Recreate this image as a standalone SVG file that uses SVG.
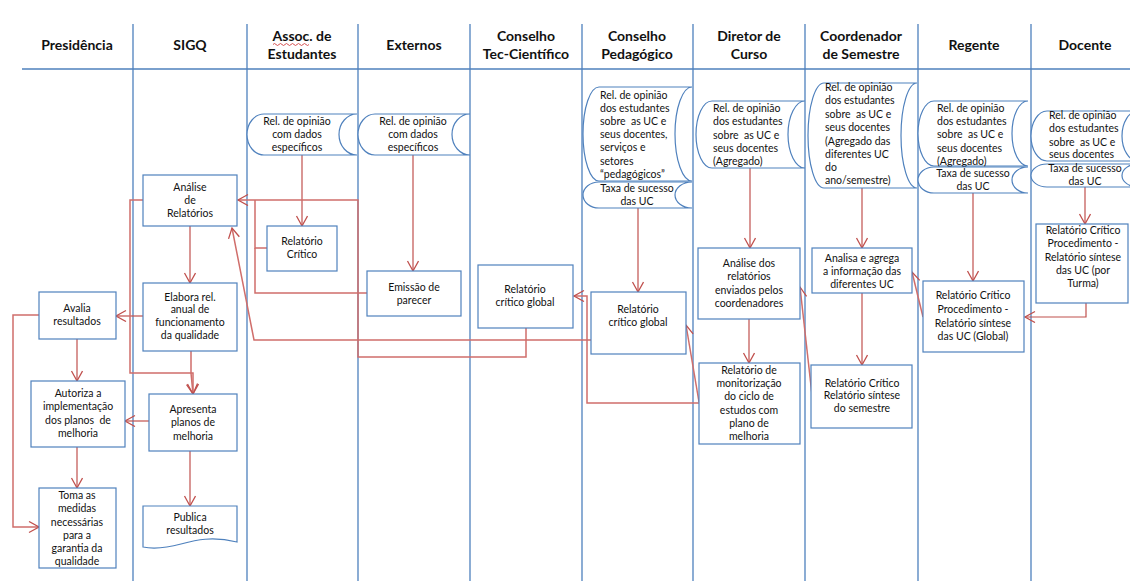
<svg xmlns="http://www.w3.org/2000/svg" width="1130" height="581" viewBox="0 0 1130 581">
<style>
.lane{stroke:#4f81bd;stroke-width:1.3;fill:none}
.box{fill:#fff;stroke:#4f81bd;stroke-width:1.2}
.h{font-family:Lato,"Noto Sans",sans-serif;font-weight:bold;font-size:14px;fill:#111;text-anchor:middle}
.t{font-family:Lato,"Noto Sans",sans-serif;font-size:10.5px;fill:#111;text-anchor:middle;white-space:pre}
.tl{font-family:Lato,"Noto Sans",sans-serif;font-size:10.5px;fill:#111;white-space:pre}
.c{fill:none;stroke:#c0504d;stroke-width:1.2}
.l{fill:none;stroke:#d06e6b;stroke-width:1.5}
</style>
<defs>
<marker id="a" markerUnits="userSpaceOnUse" markerWidth="13" markerHeight="13" refX="11" refY="6" orient="auto">
<path d="M1,0.5 L11,6 L1,11.5" fill="none" stroke="#c0504d" stroke-width="1.3"/>
</marker>
</defs>
<rect width="1130" height="581" fill="#fff"/>
<g id="lanes">
<path class="lane" d="M22,69 H1130 M133,24 V581 M247,24 V581 M358,24 V581 M470,24 V581 M582,24 V581 M693,24 V581 M805,24 V581 M918,24 V581 M1031,24 V581"/>
<text class="h" x="77" y="50">Presidência</text>
<text class="h" x="190" y="50">SIGQ</text>
<text class="h" x="302" y="41">Assoc. de</text>
<text class="h" x="302" y="59">Estudantes</text>
<path d="M273,44.5 q1.5,-2 3,0 t3,0 t3,0 t3,0 t3,0 t3,0 t3,0 t3,0 t3,0 t3,0 t3,0 t3,0" fill="none" stroke="#d04040" stroke-width="0.9"/>
<text class="h" x="414" y="50">Externos</text>
<text class="h" x="526" y="41">Conselho</text>
<text class="h" x="526" y="59">Tec-Científico</text>
<text class="h" x="637" y="41">Conselho</text>
<text class="h" x="637" y="59">Pedagógico</text>
<text class="h" x="749" y="41">Diretor de</text>
<text class="h" x="749" y="59">Curso</text>
<text class="h" x="861" y="41">Coordenador</text>
<text class="h" x="861" y="59">de Semestre</text>
<text class="h" x="974" y="50">Regente</text>
<text class="h" x="1085" y="50">Docente</text>
</g>
<g id="connectors">
<path class="c" d="M77,339 V381" marker-end="url(#a)"/>
<path class="c" d="M77,447 V488" marker-end="url(#a)"/>
<path class="l" d="M39,315 H13 V527 H39" marker-end="url(#a)"/>
<path class="c" d="M190,226 V283" marker-end="url(#a)"/>
<path class="c" d="M143,316 H116" marker-end="url(#a)"/>
<path class="l" d="M191,351 V373 L193,394" marker-end="url(#a)"/>
<path class="l" d="M143,200 H130 V373 H193 V394" marker-end="url(#a)"/>
<path class="c" d="M149,421 H125" marker-end="url(#a)"/>
<path class="c" d="M190,451 V506" marker-end="url(#a)"/>
<path class="c" d="M302,155 V226" marker-end="url(#a)"/>
<path class="c" d="M413,155 V271" marker-end="url(#a)"/>
<path class="l" d="M267,248 H255 V200"/>
<path class="l" d="M367,293 H255 V248"/>
<path class="l" d="M526,328 V357 H358 V200 H238" marker-end="url(#a)"/>
<path class="l" d="M591,340 H254 L232,228" marker-end="url(#a)"/>
<path class="c" d="M638,208 V292" marker-end="url(#a)"/>
<path class="l" d="M699,403 H587 V296 H574" marker-end="url(#a)"/>
<path class="l" d="M699,402 L686,325" marker-end="url(#a)"/>
<path class="c" d="M750,168 V248" marker-end="url(#a)"/>
<path class="c" d="M749,319 V363" marker-end="url(#a)"/>
<path class="l" d="M812,395 L800,287" marker-end="url(#a)"/>
<path class="c" d="M862,188 V248" marker-end="url(#a)"/>
<path class="c" d="M862,293 V365" marker-end="url(#a)"/>
<path class="l" d="M923,317 L912,272" marker-end="url(#a)"/>
<path class="c" d="M973,193 V281" marker-end="url(#a)"/>
<path class="c" d="M1085,187 V224" marker-end="url(#a)"/>
<path class="c" d="M1086,303 V317 H1025" marker-end="url(#a)"/>
</g>
<g id="avalia">
<rect class="box" x="39" y="292" width="77" height="47"/>
<text class="t" x="77" y="311.5">Avalia</text>
<text class="t" x="77" y="324.5">resultados</text>
</g>
<g id="autoriza">
<rect class="box" x="31" y="381" width="94" height="66"/>
<text class="t" x="78" y="396.5">Autoriza a</text>
<text class="t" x="78" y="410">implementação</text>
<text class="t" x="78" y="423.5" xml:space="preserve">dos planos  de</text>
<text class="t" x="78" y="437">melhoria</text>
</g>
<g id="toma">
<rect class="box" x="39" y="488" width="77" height="80"/>
<text class="t" x="77" y="498.5">Toma as</text>
<text class="t" x="77" y="512">medidas</text>
<text class="t" x="77" y="525.5">necessárias</text>
<text class="t" x="77" y="539">para a</text>
<text class="t" x="77" y="552">garantia da</text>
<text class="t" x="77" y="565">qualidade</text>
</g>
<g id="analise">
<rect class="box" x="143" y="175" width="94" height="51"/>
<text class="t" x="190" y="190.5">Análise</text>
<text class="t" x="190" y="203.5">de</text>
<text class="t" x="190" y="216.5">Relatórios</text>
</g>
<g id="elabora">
<rect class="box" x="143" y="283" width="94" height="68"/>
<text class="t" x="190" y="300.5">Elabora rel.</text>
<text class="t" x="190" y="313">anual de</text>
<text class="t" x="190" y="326">funcionamento</text>
<text class="t" x="190" y="339">da qualidade</text>
</g>
<g id="apresenta">
<rect class="box" x="149" y="394" width="88" height="57"/>
<text class="t" x="193" y="412.5">Apresenta</text>
<text class="t" x="193" y="426">planos de</text>
<text class="t" x="193" y="439.5">melhoria</text>
</g>
<g id="publica">
<path class="box" d="M143,506 H237 V542 C212,536 196,540 181,544 C166,548 153,549 143,547 Z"/>
<text class="t" x="190" y="520.5">Publica</text>
<text class="t" x="190" y="533.5">resultados</text>
</g>
<g id="assoc-opiniao">
<path class="box" d="M264,114 H357 A18,20.5 0 0 0 357,155 H264 A17,20.5 0 0 1 264,114 Z"/>
<text class="t" x="297" y="124.5">Rel. de opinião</text>
<text class="t" x="297" y="137.5">com dados</text>
<text class="t" x="297" y="151">específicos</text>
</g>
<g id="assoc-critico">
<rect class="box" x="267" y="226" width="70" height="45"/>
<text class="t" x="302" y="244.5">Relatório</text>
<text class="t" x="302" y="257.5">Crítico</text>
</g>
<g id="ext-opiniao">
<path class="box" d="M375,114 H470 A18,20.5 0 0 0 470,155 H375 A17,20.5 0 0 1 375,114 Z"/>
<text class="t" x="413" y="124.5">Rel. de opinião</text>
<text class="t" x="413" y="137.5">com dados</text>
<text class="t" x="413" y="151">específicos</text>
</g>
<g id="emissao">
<rect class="box" x="367" y="271" width="94" height="45"/>
<text class="t" x="414" y="290.5">Emissão de</text>
<text class="t" x="414" y="303.5">parecer</text>
</g>
<g id="tec-global">
<rect class="box" x="478" y="265" width="95" height="63"/>
<text class="t" x="525" y="292.5">Relatório</text>
<text class="t" x="525" y="305.5">crítico global</text>
</g>
<g id="ped-opiniao">
<path class="box" d="M599,87 H692 A17,47 0 0 0 692,181 H599 A16,47 0 0 1 599,87 Z"/>
<text class="tl" x="600" y="98.5">Rel. de opinião</text>
<text class="tl" x="600" y="111.5">dos estudantes</text>
<text class="tl" x="600" y="125" xml:space="preserve">sobre  as UC e</text>
<text class="tl" x="600" y="138">seus docentes,</text>
<text class="tl" x="600" y="151">serviços e</text>
<text class="tl" x="600" y="164.5">setores</text>
<text class="tl" x="600" y="177.5">“pedagógicos”</text>
</g>
<g id="ped-taxa">
<path class="box" d="M599,182 H692 A17,13 0 0 0 692,208 H599 A16,13 0 0 1 599,182 Z"/>
<text class="t" x="637" y="191.5">Taxa de sucesso</text>
<text class="t" x="637" y="205">das UC</text>
</g>
<g id="ped-global">
<rect class="box" x="591" y="292" width="95" height="62"/>
<text class="t" x="638" y="312.5">Relatório</text>
<text class="t" x="638" y="325.5">crítico global</text>
</g>
<g id="dir-opiniao">
<path class="box" d="M712,101 H805 A17,33.5 0 0 0 805,168 H712 A16,33.5 0 0 1 712,101 Z"/>
<text class="tl" x="713" y="111.5">Rel. de opinião</text>
<text class="tl" x="713" y="125">dos estudantes</text>
<text class="tl" x="713" y="138.5" xml:space="preserve">sobre  as UC e</text>
<text class="tl" x="713" y="151.5">seus docentes</text>
<text class="tl" x="713" y="165">(Agregado)</text>
</g>
<g id="dir-analise">
<rect class="box" x="698" y="248" width="102" height="71"/>
<text class="t" x="749" y="266.5">Análise dos</text>
<text class="t" x="749" y="280">relatórios</text>
<text class="t" x="749" y="293.5">enviados pelos</text>
<text class="t" x="749" y="306.5">coordenadores</text>
</g>
<g id="dir-monitor">
<rect class="box" x="699" y="363" width="101" height="81"/>
<text class="t" x="749" y="373.5">Relatório de</text>
<text class="t" x="749" y="386.5">monitorização</text>
<text class="t" x="749" y="400">do ciclo de</text>
<text class="t" x="749" y="413.5">estudos com</text>
<text class="t" x="749" y="426.5">plano de</text>
<text class="t" x="749" y="440">melhoria</text>
</g>
<g id="coord-opiniao">
<path class="box" d="M824,83 H917 A16,52.5 0 0 0 917,188 H824 A16,52.5 0 0 1 824,83 Z"/>
<text class="tl" x="825" y="90.5">Rel. de opinião</text>
<text class="tl" x="825" y="104">dos estudantes</text>
<text class="tl" x="825" y="117.5" xml:space="preserve">sobre  as UC e</text>
<text class="tl" x="825" y="131">seus docentes</text>
<text class="tl" x="825" y="144.5">(Agregado das</text>
<text class="tl" x="825" y="157.5">diferentes UC</text>
<text class="tl" x="825" y="170.5">do</text>
<text class="tl" x="825" y="184">ano/semestre)</text>
</g>
<g id="coord-analisa">
<rect class="box" x="812" y="248" width="100" height="45"/>
<text class="t" x="862" y="261.5">Analisa e agrega</text>
<text class="t" x="862" y="275">a informação das</text>
<text class="t" x="862" y="288">diferentes UC</text>
</g>
<g id="coord-critico">
<rect class="box" x="811" y="365" width="101" height="63"/>
<text class="t" x="862" y="386.5">Relatório Crítico</text>
<text class="t" x="862" y="399">Relatório síntese</text>
<text class="t" x="862" y="412">do semestre</text>
</g>
<g id="reg-opiniao">
<path class="box" d="M934,101 H1028 A16,32.5 0 0 0 1028,166 H934 A16,32.5 0 0 1 934,101 Z"/>
<text class="tl" x="937" y="111.5">Rel. de opinião</text>
<text class="tl" x="937" y="125">dos estudantes</text>
<text class="tl" x="937" y="138" xml:space="preserve">sobre  as UC e</text>
<text class="tl" x="937" y="151.5">seus docentes</text>
<text class="tl" x="937" y="164.5">(Agregado)</text>
</g>
<g id="reg-taxa">
<path class="box" d="M934,167 H1028 A16,13 0 0 0 1028,193 H934 A16,13 0 0 1 934,167 Z"/>
<text class="t" x="973" y="176.5">Taxa de sucesso</text>
<text class="t" x="973" y="190">das UC</text>
</g>
<g id="reg-critico">
<rect class="box" x="923" y="281" width="101" height="71"/>
<text class="t" x="973" y="298.5">Relatório Crítico</text>
<text class="t" x="973" y="312.5">Procedimento -</text>
<text class="t" x="973" y="326.5">Relatório síntese</text>
<text class="t" x="973" y="339.5">das UC (Global)</text>
</g>
<g id="doc-opiniao">
<path class="box" d="M1047,111 H1138 A16,25 0 0 0 1138,161 H1047 A16,25 0 0 1 1047,111 Z"/>
<text class="tl" x="1049" y="118.5">Rel. de opinião</text>
<text class="tl" x="1049" y="131.5">dos estudantes</text>
<text class="tl" x="1049" y="145.5" xml:space="preserve">sobre  as UC e</text>
<text class="tl" x="1049" y="157.5">seus docentes</text>
</g>
<g id="doc-taxa">
<path class="box" d="M1047,164 H1138 A16,11.5 0 0 0 1138,187 H1047 A16,11.5 0 0 1 1047,164 Z"/>
<text class="t" x="1085" y="171.5">Taxa de sucesso</text>
<text class="t" x="1085" y="185">das UC</text>
</g>
<g id="doc-critico">
<rect class="box" x="1036" y="224" width="92" height="79"/>
<text class="t" x="1083" y="233.5">Relatório Crítico</text>
<text class="t" x="1083" y="246.5">Procedimento -</text>
<text class="t" x="1083" y="260.5">Relatório síntese</text>
<text class="t" x="1083" y="273.5">das UC (por</text>
<text class="t" x="1083" y="286.5">Turma)</text>
</g>
</svg>
